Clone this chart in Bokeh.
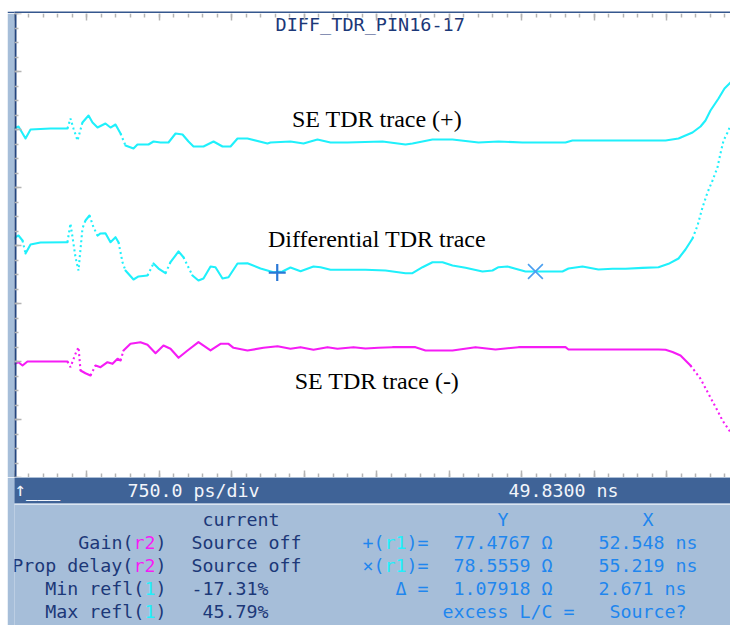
from bokeh.plotting import figure
from bokeh.models import Range1d, FixedTicker, LinearAxis, ColumnDataSource, Spacer
from bokeh.layouts import column, row
from bokeh.embed import file_html
from bokeh.resources import INLINE
from bokeh.core.properties import value

# ---------------- data (time in ns, vertical position in screen divisions) ----------------
T_LEFT = 49.83          # ns at left edge of screen
NS_PER_DIV = 0.75       # 750 ps/div
T_VISIBLE_END = 57.237  # right edge of the visible (cropped) screen
N_VDIV = 8

se_plus_t = [49.830, 49.871, 49.902, 49.944, 49.996, 50.202, 50.378, 50.409, 50.440, 50.482,
             50.533, 50.596, 50.637, 50.689, 50.771, 50.823, 50.875, 50.927, 50.978, 51.061,
             51.102, 51.216, 51.268, 51.340, 51.423, 51.496, 51.568, 51.630, 51.682, 51.785,
             51.889, 51.982, 52.065, 52.137, 52.240, 52.447, 52.478, 52.685, 52.820, 52.964,
             53.099, 53.275, 53.637, 53.875, 53.947, 54.154, 54.361, 54.630, 54.837, 55.085,
             55.530, 55.602, 56.565, 56.699, 56.771, 56.844, 56.927, 56.978, 57.030, 57.113,
             57.175, 57.237]
se_plus_y = [6.017, 6.052, 5.966, 5.845, 6.000, 6.017, 6.017, 6.190, 6.017, 5.810,
             6.121, 6.241, 6.121, 6.034, 6.103, 6.034, 6.086, 5.931, 5.724, 5.672,
             5.741, 5.741, 5.793, 5.776, 5.776, 5.931, 5.914, 5.793, 5.707, 5.707,
             5.793, 5.707, 5.707, 5.845, 5.845, 5.759, 5.776, 5.793, 5.759, 5.828,
             5.776, 5.776, 5.793, 5.741, 5.759, 5.828, 5.828, 5.776, 5.793, 5.776,
             5.776, 5.810, 5.810, 5.845, 5.897, 5.948, 6.052, 6.155, 6.328, 6.534,
             6.707, 6.810]

diff_t = [49.830, 49.840, 49.871, 49.913, 49.944, 49.996, 50.099, 50.378, 50.409, 50.461,
          50.492, 50.533, 50.564, 50.606, 50.647, 50.689, 50.720, 50.771, 50.823, 50.875,
          50.906, 50.947, 50.978, 51.061, 51.113, 51.206, 51.268, 51.320, 51.392, 51.444,
          51.527, 51.578, 51.671, 51.733, 51.785, 51.858, 51.909, 51.982, 52.044, 52.137,
          52.240, 52.375, 52.509, 52.602, 52.685, 52.789, 52.923, 52.996, 53.099, 53.461,
          53.668, 53.875, 53.947, 54.051, 54.154, 54.258, 54.361, 54.496, 54.671, 54.775,
          54.837, 54.930, 55.013, 55.116, 55.251, 55.499, 55.561, 55.706, 55.871, 56.016,
          56.151, 56.327, 56.492, 56.596, 56.699, 56.771, 56.844, 56.896, 56.947, 56.999,
          57.051, 57.102, 57.133, 57.165, 57.206, 57.237]
diff_y = [4.121, 4.143, 4.172, 4.086, 3.862, 4.017, 4.052, 4.057, 4.379, 3.798,
          3.569, 4.293, 4.431, 4.517, 4.316, 4.172, 4.207, 4.212, 4.057, 4.143,
          4.057, 3.712, 3.569, 3.414, 3.466, 3.483, 3.690, 3.603, 3.522, 3.712,
          3.897, 3.798, 3.483, 3.397, 3.431, 3.638, 3.626, 3.431, 3.453, 3.690,
          3.693, 3.603, 3.540, 3.552, 3.621, 3.557, 3.638, 3.626, 3.581, 3.581,
          3.569, 3.522, 3.522, 3.626, 3.712, 3.712, 3.655, 3.615, 3.552, 3.569,
          3.626, 3.638, 3.598, 3.552, 3.552, 3.552, 3.603, 3.638, 3.586, 3.598,
          3.598, 3.615, 3.626, 3.684, 3.776, 3.931, 4.121, 4.345, 4.655, 4.914,
          5.121, 5.345, 5.586, 5.810, 5.948, 6.069]

se_minus_t = [49.830, 49.871, 49.913, 49.964, 50.378, 50.409, 50.461, 50.492, 50.513, 50.564,
              50.616, 50.668, 50.720, 50.792, 50.844, 50.896, 50.927, 50.958, 51.030, 51.133,
              51.206, 51.289, 51.371, 51.444, 51.527, 51.620, 51.733, 51.858, 51.961, 52.044,
              52.096, 52.240, 52.406, 52.551, 52.685, 52.789, 52.923, 53.068, 53.171, 53.337,
              53.461, 53.595, 53.740, 53.978, 54.082, 54.361, 54.599, 54.806, 55.044, 55.530,
              55.561, 56.492, 56.565, 56.637, 56.720, 56.823, 56.927, 57.009, 57.102, 57.154,
              57.237]
se_minus_y = [1.960, 1.988, 1.931, 2.000, 2.000, 1.902, 2.133, 2.247, 1.845, 1.798,
              1.759, 1.931, 1.902, 1.988, 1.960, 2.047, 2.017, 2.190, 2.305, 2.333,
              2.288, 2.143, 2.276, 2.219, 2.064, 2.190, 2.333, 2.190, 2.305, 2.305,
              2.236, 2.190, 2.236, 2.264, 2.219, 2.247, 2.202, 2.247, 2.219, 2.247,
              2.224, 2.236, 2.247, 2.247, 2.190, 2.190, 2.247, 2.207, 2.247, 2.247,
              2.207, 2.207, 2.202, 2.164, 2.103, 1.931, 1.702, 1.443, 1.155, 0.983,
              0.781]

cursor_t = [52.548, 55.219]          # + and x cursor positions (ns)
cursor_y = [3.534, 3.552]            # on the differential trace (div)
cursor_ohm = [77.4767, 78.5559]
delta_ohm = 1.07918
delta_ns = 2.671
min_refl = -17.31
max_refl = 45.79

trace_labels = ["SE TDR trace (+)", "Differential TDR trace", "SE TDR trace (-)"]
trace_label_y = [6.181, 4.112, 1.664]
screen_title = "DIFF_TDR_PIN16-17"
title_y = 7.802

# ---------------- colours ----------------
CYAN = "#1ff0fb"
MAGENTA = "#f51cf5"
NAVY = "#1c3878"
FRAME = "#35578e"
EDGE = "#24467f"
BAR = "#3f6397"
PANEL = "#a6bed9"
BLUE = "#1f86ee"
TICK = "#b4b4b4"
MONO = "DejaVu Sans Mono"

W = 723

# ---------------- dark band above the screen ----------------
band = figure(width=W, height=7, x_axis_location=None, y_axis_location=None, toolbar_location=None,
              title=None, output_backend="svg", min_border=0, min_border_left=7, min_border_right=0,
              min_border_top=0, min_border_bottom=0,
              background_fill_color=FRAME, border_fill_color=FRAME, outline_line_color=None)
band.grid.visible = False

# ---------------- scope screen ----------------
FRAME_W, FRAME_H = 716, 464
p = figure(width=W, height=FRAME_H, x_range=Range1d(T_LEFT, T_VISIBLE_END), y_range=Range1d(0, N_VDIV),
           x_axis_location=None, y_axis_location=None, toolbar_location=None, title=None,
           output_backend="svg", min_border_left=7, min_border_right=0, min_border_top=0,
           min_border_bottom=0, border_fill_color=PANEL, background_fill_color="white",
           outline_line_color=None)
p.grid.visible = False

x_major = [T_LEFT + NS_PER_DIV * k for k in range(11)]
x_minor = [T_LEFT + NS_PER_DIV / 5 * k for k in range(51)]
y_major = list(range(N_VDIV + 1))
y_minor = [k / 4 for k in range(4 * N_VDIV + 1)]


def tick_axis(major, minor, major_len, loc, line_color=None, line_width=1):
    return LinearAxis(ticker=FixedTicker(ticks=major, minor_ticks=minor),
                      axis_line_color=line_color, axis_line_width=line_width,
                      fixed_location=loc,
                      major_tick_in=major_len, major_tick_out=0, minor_tick_in=4, minor_tick_out=0,
                      major_tick_line_color=TICK, minor_tick_line_color=TICK,
                      major_tick_line_width=1.5, minor_tick_line_width=1.5,
                      major_label_text_font_size="0px", major_label_text_color=None,
                      major_label_standoff=0)


p.add_layout(tick_axis(x_major, x_minor, 7, 0), "below")
p.add_layout(tick_axis(x_major, x_minor, 7, N_VDIV), "above")
p.add_layout(tick_axis(y_major, y_minor, 7, T_LEFT, EDGE, 4), "left")

px_per_ns = FRAME_W / (T_VISIBLE_END - T_LEFT)
px_per_div = FRAME_H / N_VDIV


def split_runs(t, y, thresh):
    """Split a trace into continuous runs and sparsely sampled (steep) runs."""
    solid, dotted = [], []
    cur = [[t[0]], [y[0]]]
    kind = None
    for i in range(len(t) - 1):
        dx = abs(t[i + 1] - t[i]) * px_per_ns
        dy = abs(y[i + 1] - y[i]) * px_per_div
        k = "dot" if dy > thresh * max(dx, 1e-6) else "solid"
        if kind is None:
            kind = k
        if k != kind:
            (dotted if kind == "dot" else solid).append(cur)
            cur = [[t[i]], [y[i]]]
            kind = k
        cur[0].append(t[i + 1])
        cur[1].append(y[i + 1])
    (dotted if kind == "dot" else solid).append(cur)
    return solid, dotted


for tt, yy, col, thr in [(se_plus_t, se_plus_y, CYAN, 2.2), (diff_t, diff_y, CYAN, 1.8),
                         (se_minus_t, se_minus_y, MAGENTA, 1.2)]:
    solid, dotted = split_runs(tt, yy, thr)
    if solid:
        p.multi_line([r[0] for r in solid], [r[1] for r in solid], line_color=col, line_width=2.1,
                     line_join="round", line_cap="round")
    if dotted:
        p.multi_line([r[0] for r in dotted], [r[1] for r in dotted], line_color=col, line_width=2.1,
                     line_dash="2 3")

p.scatter([cursor_t[0]], [cursor_y[0]], marker="cross", size=17, line_width=2.2, line_color="#2a78d6")
p.scatter([cursor_t[1]], [cursor_y[1]], marker="x", size=21, line_width=1.6, line_color="#4a9ff0")

t_center = T_LEFT + NS_PER_DIV * 5
p.text(x=[t_center] * 3, y=trace_label_y, text=trace_labels, text_font=value("Liberation Serif"),
       text_font_size="24px", text_color="black", text_align="center", text_baseline="alphabetic")
p.text(x=[t_center - 0.07], y=[title_y], text=[screen_title], text_font=value(MONO),
       text_font_size="18.5px", text_color=NAVY, text_align="center", text_baseline="alphabetic")

# ---------------- status bar + readout panel (coordinates = pixels on the instrument panel) ----------------
TOP, BOTTOM = 477, 625
q = figure(width=W, height=BOTTOM - TOP, x_range=Range1d(14, 730), y_range=Range1d(BOTTOM, TOP),
           x_axis_location=None, y_axis_location=None, toolbar_location=None, title=None,
           output_backend="svg", min_border_left=7, min_border_right=0, min_border_top=0,
           min_border_bottom=0, background_fill_color=PANEL, border_fill_color=PANEL,
           outline_line_color=None)
q.grid.visible = False
q.quad(left=[0], right=[740], top=[TOP], bottom=[503], fill_color=BAR, line_color=None)
q.quad(left=[0], right=[740], top=[503], bottom=[504.5], fill_color="#dbe5f1", line_color=None)

FS = 18.3
CW = 0.602 * FS
BAR_Y = 490
rows_y = [518.5, 541.5, 564.5, 587.5, 610.5]

pieces = []  # (x_left, y, text, colour)


def put(x0, y, parts):
    x = x0
    for s, c in parts:
        pieces.append((x, y, s, c))
        x += len(s) * CW


def put_right(x_end, y, parts):
    n = sum(len(s) for s, _ in parts)
    put(x_end - n * CW, y, parts)


put(127, BAR_Y, [(f"{NS_PER_DIV * 1000:.1f} ps/div", "#f2f5fb")])
put(508, BAR_Y, [(f"{T_LEFT:.4f} ns", "#f2f5fb")])

LEFT_END = 166
COL2 = 191
put(COL2 + CW, rows_y[0], [("current", NAVY)])
put_right(LEFT_END, rows_y[1], [("Gain(", NAVY), ("r2", MAGENTA), (")", NAVY)])
put_right(LEFT_END, rows_y[2], [("Prop delay(", NAVY), ("r2", MAGENTA), (")", NAVY)])
put_right(LEFT_END, rows_y[3], [("Min refl(", NAVY), ("1", CYAN), (")", NAVY)])
put_right(LEFT_END, rows_y[4], [("Max refl(", NAVY), ("1", CYAN), (")", NAVY)])
put(COL2, rows_y[1], [("Source off", NAVY)])
put(COL2, rows_y[2], [("Source off", NAVY)])
put(COL2, rows_y[3], [(f"{min_refl:.2f}%", NAVY)])
put(COL2 + CW, rows_y[4], [(f"{max_refl:.2f}%", NAVY)])

CUR = 362
YCOL = 453
XCOL = 598
put(YCOL + 4 * CW, rows_y[0], [("Y", BLUE)])
put(XCOL + 4 * CW, rows_y[0], [("X", BLUE)])
put(CUR, rows_y[1], [("+(", BLUE), ("r1", CYAN), (")=", BLUE)])
put(CUR, rows_y[2], [("\u00d7(", BLUE), ("r1", CYAN), (")=", BLUE)])
put(CUR + 3 * CW, rows_y[3], [("\u0394 =", BLUE)])
put(YCOL, rows_y[1], [(f"{cursor_ohm[0]:.4f} \u03a9", BLUE)])
put(YCOL, rows_y[2], [(f"{cursor_ohm[1]:.4f} \u03a9", BLUE)])
put(YCOL, rows_y[3], [(f"{delta_ohm:.5f} \u03a9", BLUE)])
put(XCOL, rows_y[1], [(f"{cursor_t[0]:.3f} ns", BLUE)])
put(XCOL, rows_y[2], [(f"{cursor_t[1]:.3f} ns", BLUE)])
put(XCOL, rows_y[3], [(f"{delta_ns:.3f} ns", BLUE)])
put(YCOL - CW, rows_y[4], [("excess L/C =", BLUE)])
put(XCOL + CW, rows_y[4], [("Source?", BLUE)])

src = ColumnDataSource(dict(x=[a[0] for a in pieces], y=[a[1] for a in pieces],
                            text=[a[2] for a in pieces], color=[a[3] for a in pieces]))
q.text(x="x", y="y", text="text", text_color="color", source=src, text_font=value(MONO),
       text_font_size=f"{FS}px", text_align="left", text_baseline="alphabetic")
q.text(x=[14], y=[488], text=["\u2191___"], text_color="#f2f5fb", text_font=value(MONO),
       text_font_size="19px", text_align="left", text_baseline="alphabetic")

layout = row(Spacer(width=7), column(Spacer(height=6), band, p, q, spacing=0), spacing=0)
open("out.html", "w").write(file_html(layout, INLINE))
